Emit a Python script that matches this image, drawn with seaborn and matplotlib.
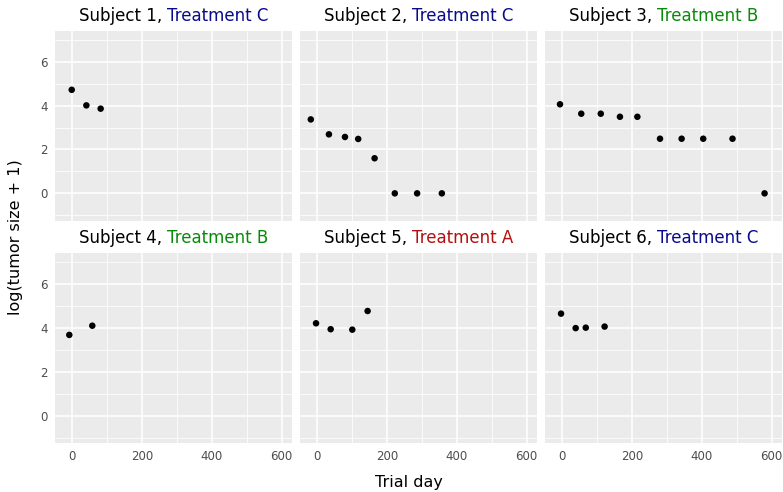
import matplotlib
matplotlib.use("Agg")
import matplotlib.pyplot as plt
import seaborn as sns
import pandas as pd
import numpy as np

# ---------------- data ----------------
subjects = [1, 2, 3, 4, 5, 6]
treatments = ["C", "C", "B", "B", "A", "C"]
treatment_colors = {"A": "#B50F0F", "B": "#0A8A0A", "C": "#0A0A8C"}

day_s1 = [-2, 40, 81]
val_s1 = [4.72, 4.01, 3.86]
day_s2 = [-19, 33, 79, 117, 164, 222, 286, 357]
val_s2 = [3.37, 2.69, 2.57, 2.48, 1.60, 0.0, 0.0, 0.0]
day_s3 = [-7, 54, 110, 165, 215, 280, 342, 404, 488, 580]
val_s3 = [4.06, 3.63, 3.63, 3.49, 3.49, 2.49, 2.49, 2.49, 2.49, 0.0]
day_s4 = [-9, 57]
val_s4 = [3.68, 4.10]
day_s5 = [-4, 38, 100, 144]
val_s5 = [4.21, 3.94, 3.92, 4.77]
day_s6 = [-4, 38, 67, 121]
val_s6 = [4.65, 3.99, 4.01, 4.06]

x_ticks = [0, 200, 400, 600]
y_ticks = [0, 2, 4, 6]

days = [day_s1, day_s2, day_s3, day_s4, day_s5, day_s6]
vals = [val_s1, val_s2, val_s3, val_s4, val_s5, val_s6]
df = pd.concat([pd.DataFrame({"subject": s, "day": d, "value": v})
                for s, d, v in zip(subjects, days, vals)], ignore_index=True)

# ---------------- figure ----------------
sns.set_theme(style="darkgrid")
plt.rcParams["font.family"] = ["DejaVu Sans"]

W, H = 783, 492
fig = plt.figure(figsize=(W / 100, H / 100), dpi=100)

col_left = [55, 300, 545]
pw = 237
row_top = [31, 253.3]
ph = 190

xlim = (-50, 630)
ylim = (-1.26, 7.40)

for i, subj in enumerate(subjects):
    r, c = divmod(i, 3)
    ax = fig.add_axes([col_left[c] / W, (H - row_top[r] - ph) / H, pw / W, ph / H])
    ax.set_facecolor("#EBEBEB")
    sub = df[df["subject"] == subj]
    sns.scatterplot(data=sub, x="day", y="value", ax=ax, color="black",
                    s=22, edgecolor="none", zorder=3)
    ax.set_xlim(*xlim)
    ax.set_ylim(*ylim)
    ax.set_xticks(x_ticks)
    ax.set_yticks(y_ticks)
    ax.set_xticks([100, 300, 500], minor=True)
    ax.set_yticks([-1, 1, 3, 5, 7], minor=True)
    ax.grid(which="major", color="white", linewidth=1.1)
    ax.grid(which="minor", color="white", linewidth=0.55)
    ax.set_axisbelow(True)
    for sp in ax.spines.values():
        sp.set_visible(False)
    ax.set_xlabel("")
    ax.set_ylabel("")
    ax.tick_params(which="minor", length=0)
    ax.tick_params(which="major", length=3, width=0.8, color="#333333",
                   labelcolor="#4D4D4D", labelsize=8.5, pad=2)
    if c != 0:
        ax.tick_params(axis="y", which="major", length=0, labelleft=False)
    if r != 1:
        ax.tick_params(axis="x", which="major", length=0, labelbottom=False)

    # two-coloured strip title
    t = treatments[i]
    part1 = f"Subject {subj}, "
    part2 = f"Treatment {t}"
    fs = 12.0
    renderer = fig.canvas.get_renderer()
    tmp1 = fig.text(0, 0, part1, fontsize=fs)
    tmp2 = fig.text(0, 0, part2, fontsize=fs)
    w1 = tmp1.get_window_extent(renderer).width
    w2 = tmp2.get_window_extent(renderer).width
    tmp1.remove(); tmp2.remove()
    cx = col_left[c] + pw / 2
    x0 = cx - (w1 + w2) / 2
    ytxt = H - (row_top[r] - 15)
    fig.text(x0 / W, ytxt / H, part1, fontsize=fs, color="black",
             ha="left", va="center")
    fig.text((x0 + w1) / W, ytxt / H, part2, fontsize=fs,
             color=treatment_colors[t], ha="left", va="center")

fig.text(409 / W, (H - 483) / H, "Trial day", fontsize=11.5, ha="center",
         va="center", color="black")
fig.text(16 / W, (H - 237) / H, "log(tumor size + 1)", fontsize=11.5,
         ha="center", va="center", rotation=90, color="black")

fig.savefig("out.png", dpi=100, facecolor="white")
